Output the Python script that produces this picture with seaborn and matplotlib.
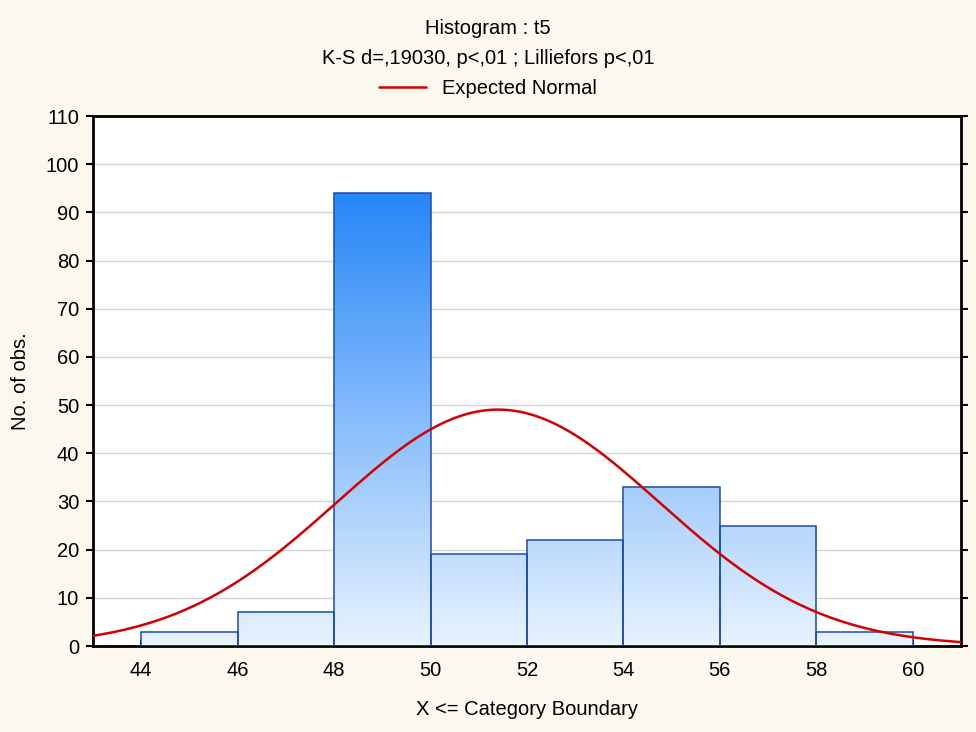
import numpy as np
import pandas as pd
import matplotlib
matplotlib.use("Agg")
import matplotlib.pyplot as plt
from matplotlib.colors import LinearSegmentedColormap
import seaborn as sns

sns.set_theme(style="white", context="notebook")
plt.rcParams['font.family'] = ['Liberation Sans', 'DejaVu Sans']
plt.rcParams['font.size'] = 14.5
plt.rcParams['text.color'] = 'black'
plt.rcParams['axes.labelcolor'] = 'black'
plt.rcParams['xtick.color'] = 'black'
plt.rcParams['ytick.color'] = 'black'

# histogram data (category boundaries and counts)
bin_edges = [44, 46, 48, 50, 52, 54, 56, 58, 60]
counts = [3, 7, 94, 19, 22, 33, 25, 3]
# expected normal parameters
norm_mean = 51.4
norm_sd = 3.35
bin_width = 2

title_1 = "Histogram : t5"
title_2 = "K-S d=,19030, p<,01 ; Lilliefors p<,01"
x_ticks = [44, 46, 48, 50, 52, 54, 56, 58, 60]
y_ticks = list(range(0, 111, 10))

BG = '#FCF8EE'
EDGE = '#1A4BB0'
RED = '#D40000'
FS = 14.5

centers = [(a + b) / 2 for a, b in zip(bin_edges[:-1], bin_edges[1:])]
df = pd.DataFrame({'x': centers, 'n': counts})

fig = plt.figure(figsize=(9.76, 7.32), dpi=100, facecolor=BG)
ax = fig.add_axes([93 / 976, 1 - 646 / 732, (961 - 93) / 976, (646 - 116) / 732])
ax.set_facecolor('white')

sns.histplot(data=df, x='x', weights='n', bins=bin_edges, ax=ax,
             stat='count', element='bars', fill=True, color='#9ECAE1',
             edgecolor=EDGE, linewidth=1.1, zorder=3)

# vertical gradient fill inside each bar
cmap = LinearSegmentedColormap.from_list('grad', ['#E8F3FE', '#2686F8'])
grad = np.linspace(0, 1, 256).reshape(-1, 1)
ymax_grad = max(counts)
for p in ax.patches:
    x0 = p.get_x()
    w = p.get_width()
    p.set_facecolor('none')
    im = ax.imshow(grad, cmap=cmap, origin='lower', aspect='auto',
                   extent=(x0, x0 + w, 0, ymax_grad), zorder=2,
                   interpolation='bilinear')
    im.set_clip_path(p)

# expected normal curve
xs = np.linspace(43, 61, 400)
ys = sum(counts) * bin_width / (norm_sd * np.sqrt(2 * np.pi)) * np.exp(-0.5 * ((xs - norm_mean) / norm_sd) ** 2)
line, = ax.plot(xs, ys, color=RED, linewidth=1.8, zorder=4, label='Expected Normal')

ax.set_xlim(43, 61)
ax.set_ylim(0, 110)
ax.set_xticks(x_ticks)
ax.set_yticks(y_ticks)
ax.yaxis.grid(True, color='#D4D4D4', linewidth=1)
ax.xaxis.grid(False)
ax.set_axisbelow(True)

for s in ax.spines.values():
    s.set_visible(True)
    s.set_color('black')
    s.set_linewidth(2)

ax.tick_params(axis='y', direction='out', length=5, width=1.5, left=True,
               right=True, labelsize=FS, colors='black', pad=5)
ax.tick_params(axis='x', direction='in', length=4, width=1.5, bottom=True,
               labelsize=FS, colors='black', pad=11)

ax.set_xlabel('X <= Category Boundary', fontsize=FS, labelpad=14)
ax.set_ylabel('No. of obs.', fontsize=FS, labelpad=11)

fig.text(0.5, 1 - 29 / 732, title_1, ha='center', va='center', fontsize=FS)
fig.text(0.5, 1 - 59 / 732, title_2, ha='center', va='center', fontsize=FS)
fig.legend(handles=[line], loc='center', bbox_to_anchor=(0.5, 1 - 89 / 732),
           frameon=False, fontsize=FS, handlelength=2.3, handletextpad=0.8)

fig.savefig('out.png', dpi=100, facecolor=BG)
